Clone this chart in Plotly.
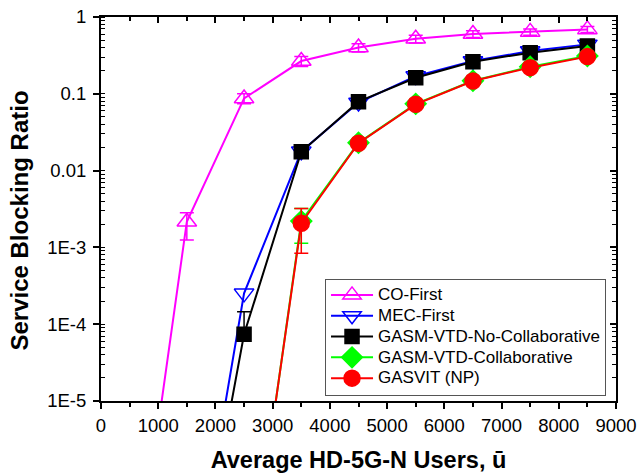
import plotly.graph_objects as go

# ---- data ----
x_co = [500, 1500, 2500, 3500, 4500, 5500, 6500, 7500, 8500]
y_co = [1.05e-8, 0.00216, 0.087, 0.267, 0.40, 0.52, 0.60, 0.64, 0.69]
co_hi = [0, 0.00067, 0.013, 0.04, 0.05, 0.06, 0.06, 0.06, 0.06]
co_lo = [0, 0.00091, 0.013, 0.04, 0.05, 0.06, 0.06, 0.06, 0.06]

x_mec = [1500, 2500, 3500, 4500, 5500, 6500, 7500, 8500]
y_mec = [1.05e-8, 2.52e-4, 0.0178, 0.077, 0.17, 0.268, 0.36, 0.44]

x_nc = [1500, 2500, 3500, 4500, 5500, 6500, 7500, 8500]
y_nc = [6.8e-9, 7.4e-5, 0.0176, 0.079, 0.162, 0.262, 0.343, 0.42]
nc_hi = [0, 7.1e-5, 0.002, 0.008, 0.015, 0.02, 0.025, 0.03]
nc_lo = [0, 1.4e-5, 0.002, 0.008, 0.015, 0.02, 0.025, 0.03]

x_col = [2500, 3500, 4500, 5500, 6500, 7500, 8500]
y_col = [1.2e-8, 0.0022, 0.023, 0.074, 0.148, 0.225, 0.31]
col_hi = [0, 0.001, 0.002, 0.006, 0.01, 0.015, 0.02]
col_lo = [0, 0.00107, 0.002, 0.006, 0.01, 0.015, 0.02]

x_np = [2500, 3500, 4500, 5500, 6500, 7500, 8500]
y_np = [1.3e-8, 0.00206, 0.0227, 0.073, 0.147, 0.219, 0.305]
np_hi = [0, 0.00114, 0.002, 0.006, 0.01, 0.015, 0.02]
np_lo = [0, 0.00122, 0.002, 0.006, 0.01, 0.015, 0.02]

names = ["CO-First", "MEC-First", "GASM-VTD-No-Collaborative",
         "GASM-VTD-Collaborative", "GASVIT (NP)"]

x_ticks = [0, 1000, 2000, 3000, 4000, 5000, 6000, 7000, 8000, 9000]
x_minor = [500, 1500, 2500, 3500, 4500, 5500, 6500, 7500, 8500]
y_tickvals = [1e-5, 1e-4, 1e-3, 1e-2, 1e-1, 1]
y_ticktext = ["1E-5", "1E-4", "1E-3", "0.01", "0.1", "1"]

FONT = "Liberation Sans, Arial, sans-serif"
LEGEND_TEXT_PX = 17

fig = go.Figure()


def add(x, y, name, color, symbol, size, hi=None, lo=None):
    err = None
    if hi is not None:
        err = dict(type="data", array=hi, arrayminus=lo, symmetric=False,
                   color=color, thickness=1.5, width=7)
    fig.add_trace(go.Scatter(
        x=x, y=y, mode="lines+markers",
        name=f'<span style="font-size:{LEGEND_TEXT_PX}px">{name}</span>',
        line=dict(color=color, width=2),
        marker=dict(symbol=symbol, size=size, color=color,
                    line=dict(color=color, width=1.5)),
        error_y=err,
    ))


add(x_co, y_co, names[0], "#FF00FF", "triangle-up-open", 17, co_hi, co_lo)
add(x_mec, y_mec, names[1], "#0000FF", "triangle-down-open", 17)
add(x_nc, y_nc, names[2], "#000000", "square", 14, nc_hi, nc_lo)
add(x_col, y_col, names[3], "#00FF00", "diamond", 16, col_hi, col_lo)
add(x_np, y_np, names[4], "#FF0000", "circle", 16, np_hi, np_lo)

# empty helper trace so the mirrored (top/right) axes are drawn
fig.add_trace(go.Scatter(x=[], y=[], xaxis="x2", yaxis="y2",
                         showlegend=False, hoverinfo="skip"))

fig.update_layout(
    width=640, height=475,
    margin=dict(l=101, r=24, t=17, b=74),
    paper_bgcolor="white", plot_bgcolor="white",
    font=dict(family=FONT, size=18.5, color="black"),
    showlegend=True,
    legend=dict(
        x=0.435, y=0.319, xanchor="left", yanchor="top",
        bgcolor="white", bordercolor="#555555", borderwidth=1,
        font=dict(family=FONT, size=13.7, color="black"),
        itemwidth=42, tracegroupgap=0,
    ),
    xaxis=dict(
        range=[0, 9000], tickvals=x_ticks, ticks="outside", ticklen=6,
        tickwidth=1.5, tickcolor="black", ticklabelstandoff=1,
        showline=True, linecolor="black", linewidth=2, automargin=False,
        showgrid=False, zeroline=False,
        minor=dict(tickvals=x_minor, ticks="outside", ticklen=4,
                   tickwidth=1.5, tickcolor="black", showgrid=False),
        title=dict(text="<b>Average HD-5G-N Users, ū</b>",
                   font=dict(family=FONT, size=23.5), standoff=16),
    ),
    yaxis=dict(
        type="log", range=[-5, 0], tickvals=y_tickvals, ticktext=y_ticktext,
        ticks="outside", ticklen=6, tickwidth=1.5, tickcolor="black",
        ticklabelstandoff=3, automargin=False,
        showline=True, linecolor="black", linewidth=2,
        showgrid=False, zeroline=False,
        minor=dict(dtick="D1", ticks="inside", ticklen=4, tickwidth=1,
                   tickcolor="black", showgrid=False),
    ),
    xaxis2=dict(
        overlaying="x", side="top", anchor="y2", range=[0, 9000],
        tickvals=x_ticks, ticks="inside", ticklen=6, tickwidth=1.5,
        tickcolor="black", showticklabels=False, automargin=False,
        showline=True, linecolor="black", linewidth=2,
        showgrid=False, zeroline=False,
        minor=dict(tickvals=x_minor, ticks="inside", ticklen=4,
                   tickwidth=1.5, tickcolor="black", showgrid=False),
    ),
    yaxis2=dict(
        overlaying="y", side="right", anchor="x2", type="log", range=[-5, 0],
        tickvals=y_tickvals, ticks="inside", ticklen=6, tickwidth=1.5,
        tickcolor="black", showticklabels=False, automargin=False,
        showline=True, linecolor="black", linewidth=2,
        showgrid=False, zeroline=False,
        minor=dict(dtick="D1", ticks="inside", ticklen=4, tickwidth=1,
                   tickcolor="black", showgrid=False),
    ),
    annotations=[dict(
        text="<b>Service Blocking Ratio</b>", textangle=-90,
        xref="paper", yref="paper", x=-0.158, y=0.469,
        xanchor="center", yanchor="middle", showarrow=False,
        font=dict(family=FONT, size=24, color="black"),
    )],
)

fig.write_html("out.html")
